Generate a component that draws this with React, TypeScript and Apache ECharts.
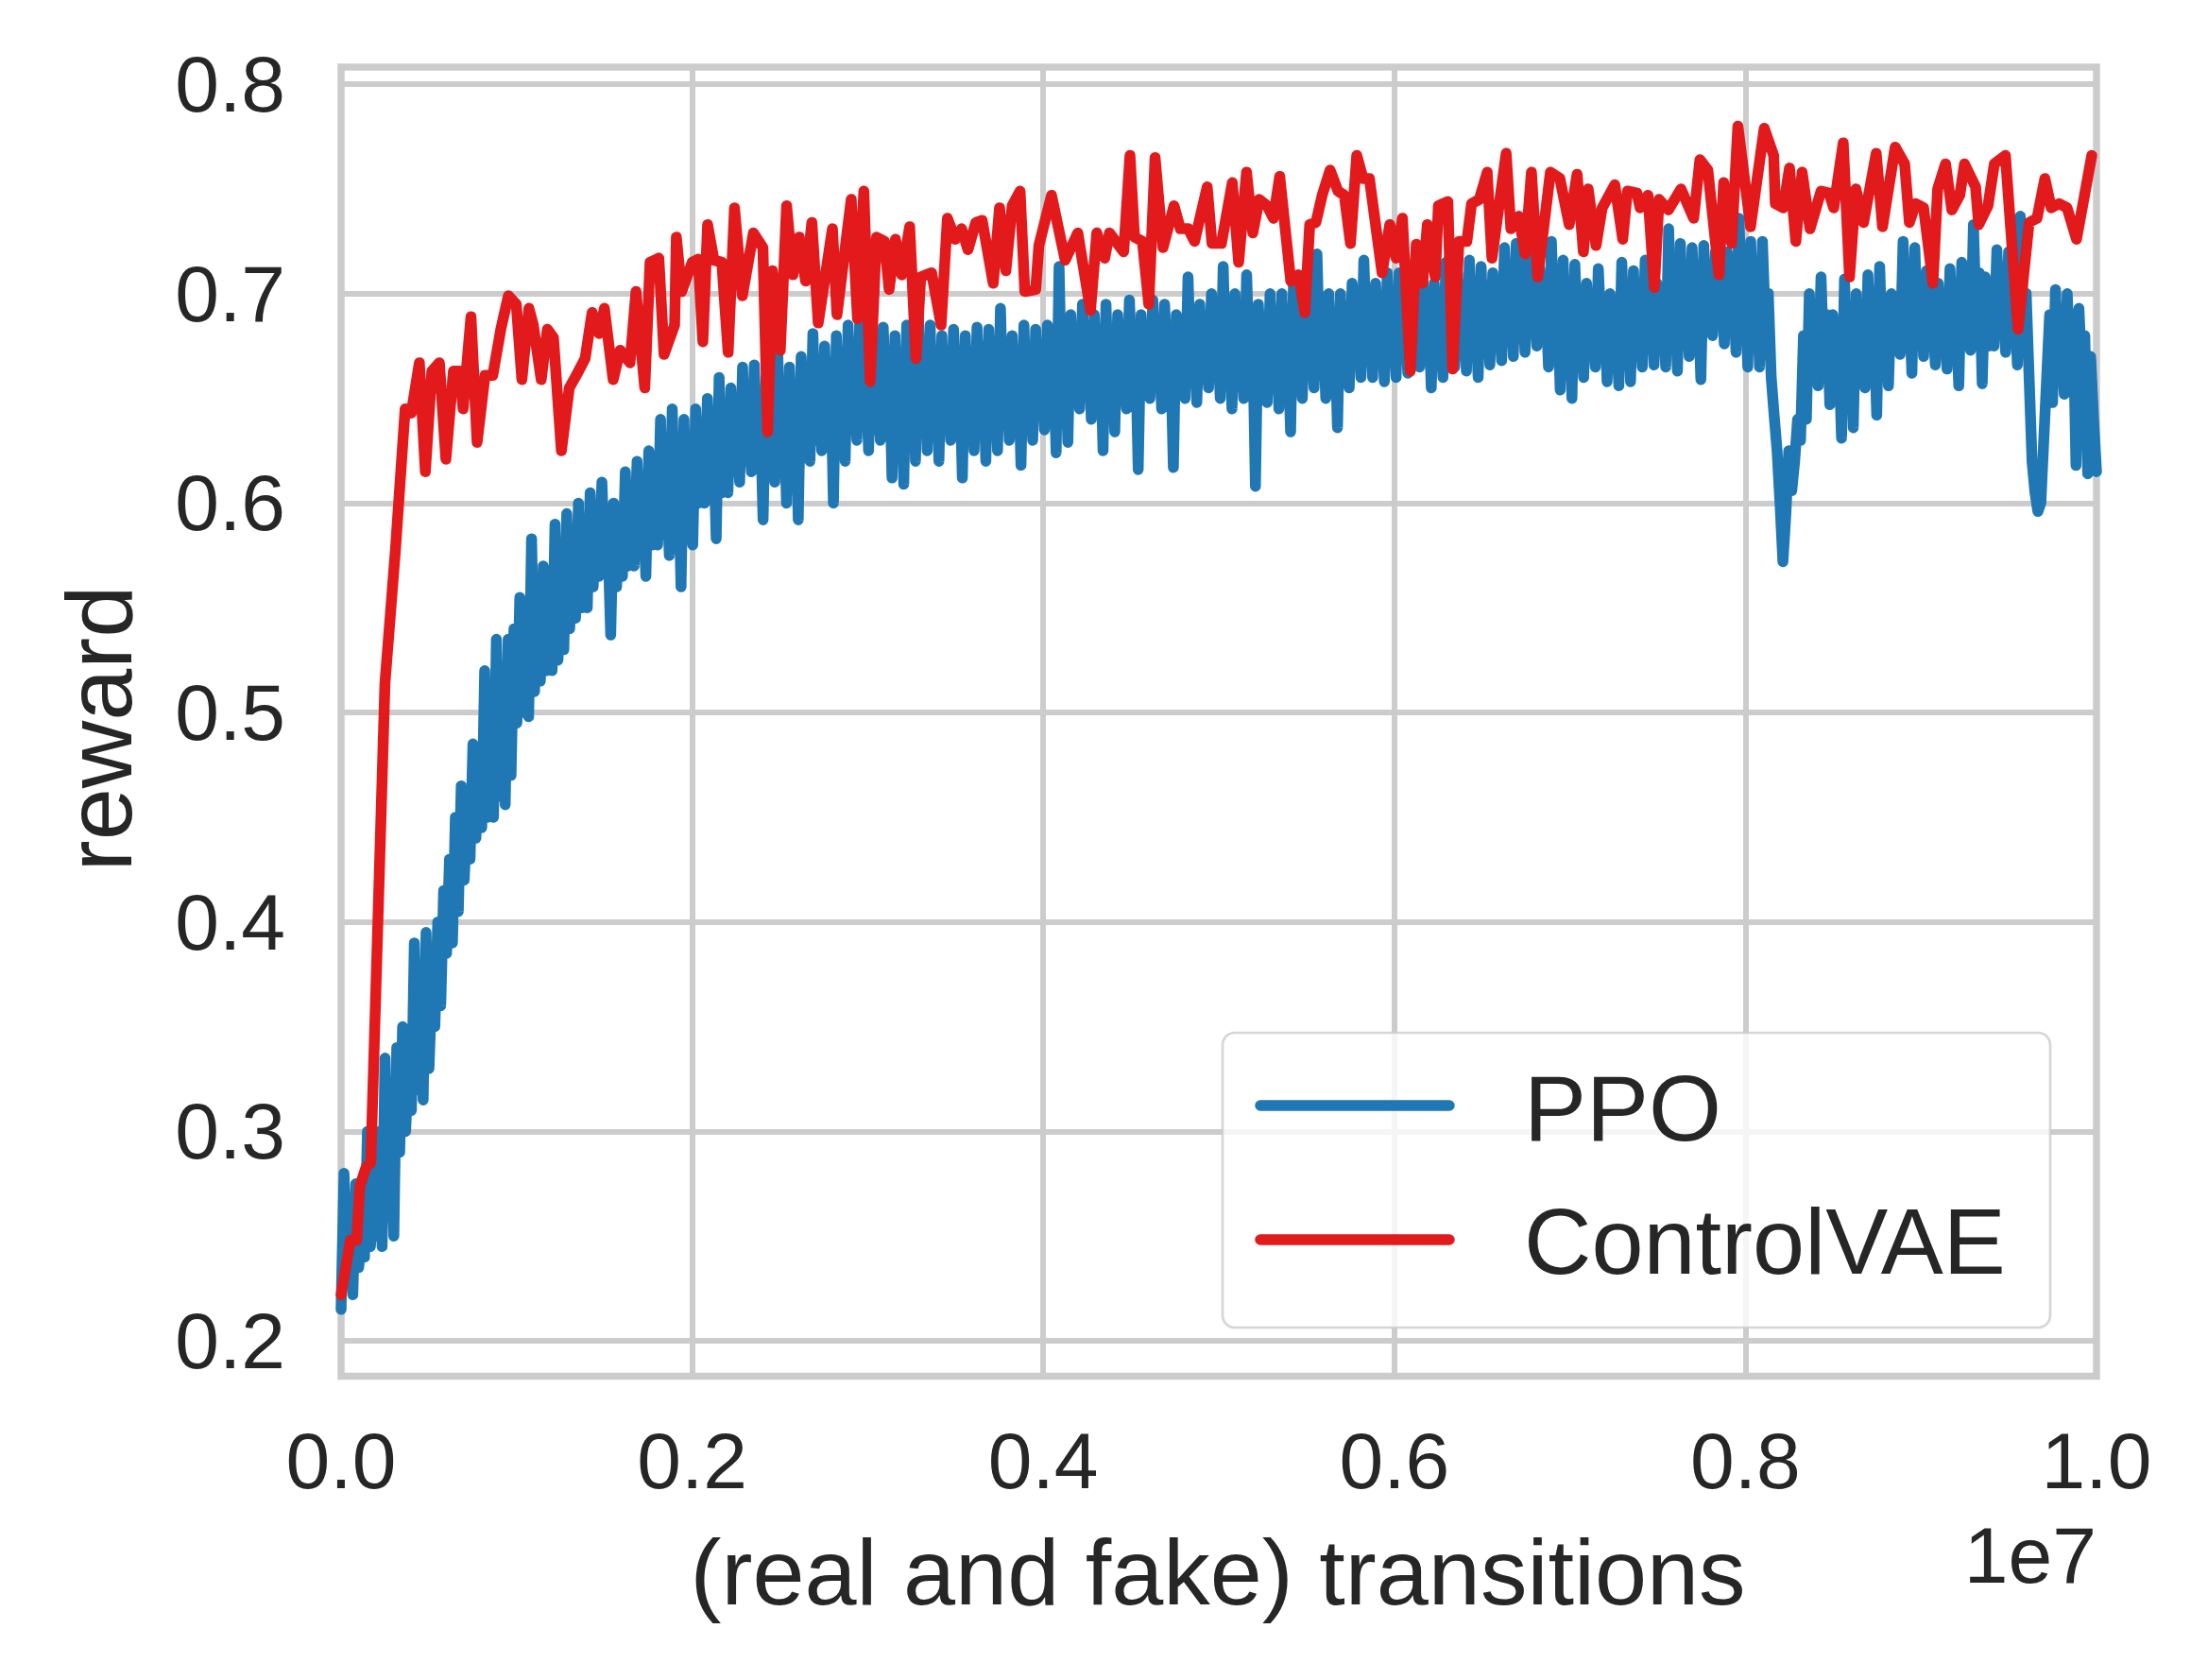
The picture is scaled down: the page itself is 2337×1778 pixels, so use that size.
import React, { useEffect, useRef } from "react";
import * as echarts from "echarts";

// ---------- data (x in units of 1e7 transitions) ----------
const xTicks = [0, 0.2, 0.4, 0.6, 0.8, 1.0];
const yTicks = [0.2, 0.3, 0.4, 0.5, 0.6, 0.7, 0.8];
const seriesNames = ["PPO", "ControlVAE"];
const xAxisTitle = "(real and fake) transitions";
const yAxisTitle = "reward";
const xOffsetText = "1e7";

// PPO reward: 600 samples, evenly spaced from 0 to 1 (x 1e7), 20 per row
const ppoReward = [
  0.215, 0.28, 0.23, 0.26, 0.222, 0.275, 0.235, 0.25, 0.24, 0.3, 0.245, 0.265, 0.25, 0.3, 0.245, 0.335, 0.26, 0.3, 0.25, 0.34,
  0.29, 0.35, 0.3, 0.33, 0.31, 0.39, 0.32, 0.36, 0.315, 0.395, 0.33, 0.37, 0.35, 0.4, 0.36, 0.415, 0.385, 0.43, 0.39, 0.45,
  0.405, 0.465, 0.42, 0.45, 0.43, 0.485, 0.44, 0.47, 0.445, 0.52, 0.45, 0.49, 0.45, 0.535, 0.46, 0.5, 0.456, 0.535, 0.47, 0.54,
  0.495, 0.555, 0.5, 0.53, 0.498, 0.583, 0.51, 0.55, 0.515, 0.57, 0.52, 0.545, 0.52, 0.59, 0.525, 0.56, 0.53, 0.595, 0.54, 0.57,
  0.545, 0.6, 0.55, 0.58, 0.55, 0.605, 0.56, 0.59, 0.565, 0.61, 0.57, 0.585, 0.537, 0.6, 0.56, 0.59, 0.565, 0.615, 0.57, 0.6,
  0.57, 0.62, 0.575, 0.6, 0.565, 0.625, 0.58, 0.61, 0.58, 0.64, 0.585, 0.62, 0.575, 0.645, 0.59, 0.62, 0.56, 0.64, 0.585, 0.63,
  0.58, 0.645, 0.6, 0.63, 0.6, 0.65, 0.61, 0.635, 0.583, 0.66, 0.605, 0.64, 0.605, 0.655, 0.615, 0.64, 0.61, 0.665, 0.62, 0.65,
  0.615, 0.666, 0.62, 0.645, 0.592, 0.66, 0.615, 0.65, 0.61, 0.672, 0.62, 0.65, 0.6, 0.665, 0.625, 0.655, 0.592, 0.67, 0.625, 0.66,
  0.62, 0.681, 0.63, 0.66, 0.625, 0.675, 0.635, 0.665, 0.6, 0.68, 0.63, 0.665, 0.62, 0.685, 0.635, 0.67, 0.63, 0.688, 0.64, 0.67,
  0.625, 0.688, 0.635, 0.665, 0.63, 0.684, 0.64, 0.67, 0.612, 0.68, 0.635, 0.665, 0.609, 0.685, 0.63, 0.67, 0.62, 0.69, 0.64, 0.675,
  0.625, 0.685, 0.635, 0.665, 0.62, 0.68, 0.64, 0.67, 0.63, 0.683, 0.645, 0.665, 0.612, 0.68, 0.635, 0.67, 0.625, 0.684, 0.64, 0.675,
  0.62, 0.683, 0.64, 0.665, 0.625, 0.693, 0.64, 0.67, 0.63, 0.68, 0.645, 0.67, 0.618, 0.685, 0.64, 0.67, 0.63, 0.683, 0.645, 0.675,
  0.635, 0.685, 0.645, 0.67, 0.624, 0.713, 0.645, 0.675, 0.629, 0.69, 0.655, 0.675, 0.645, 0.695, 0.66, 0.68, 0.64, 0.69, 0.655, 0.68,
  0.625, 0.695, 0.65, 0.675, 0.634, 0.69, 0.655, 0.675, 0.645, 0.697, 0.66, 0.68, 0.616, 0.69, 0.655, 0.68, 0.65, 0.697, 0.66, 0.68,
  0.645, 0.695, 0.66, 0.675, 0.617, 0.69, 0.655, 0.68, 0.65, 0.708, 0.66, 0.685, 0.648, 0.695, 0.66, 0.68, 0.655, 0.7, 0.665, 0.685,
  0.65, 0.713, 0.66, 0.685, 0.645, 0.7, 0.66, 0.68, 0.65, 0.709, 0.665, 0.685, 0.608, 0.695, 0.66, 0.68, 0.648, 0.7, 0.665, 0.685,
  0.645, 0.7, 0.66, 0.68, 0.634, 0.705, 0.66, 0.685, 0.65, 0.7, 0.665, 0.685, 0.655, 0.719, 0.665, 0.69, 0.65, 0.7, 0.665, 0.685,
  0.636, 0.7, 0.66, 0.685, 0.655, 0.705, 0.67, 0.69, 0.66, 0.716, 0.67, 0.69, 0.66, 0.705, 0.67, 0.69, 0.658, 0.71, 0.67, 0.69,
  0.66, 0.71, 0.675, 0.69, 0.662, 0.705, 0.675, 0.69, 0.665, 0.712, 0.675, 0.695, 0.655, 0.705, 0.67, 0.69, 0.66, 0.715, 0.675, 0.695,
  0.665, 0.71, 0.675, 0.69, 0.663, 0.716, 0.675, 0.695, 0.66, 0.713, 0.675, 0.695, 0.666, 0.71, 0.68, 0.695, 0.668, 0.722, 0.68, 0.7,
  0.67, 0.724, 0.685, 0.7, 0.672, 0.72, 0.685, 0.7, 0.675, 0.712, 0.685, 0.7, 0.665, 0.725, 0.68, 0.7, 0.654, 0.716, 0.675, 0.695,
  0.65, 0.714, 0.675, 0.695, 0.66, 0.705, 0.675, 0.69, 0.665, 0.712, 0.68, 0.695, 0.658, 0.7, 0.675, 0.69, 0.656, 0.715, 0.675, 0.695,
  0.658, 0.711, 0.675, 0.695, 0.665, 0.716, 0.68, 0.7, 0.666, 0.705, 0.68, 0.7, 0.665, 0.731, 0.685, 0.705, 0.663, 0.724, 0.68, 0.7,
  0.67, 0.722, 0.685, 0.7, 0.659, 0.723, 0.685, 0.705, 0.68, 0.72, 0.69, 0.705, 0.676, 0.72, 0.69, 0.705, 0.672, 0.736, 0.69, 0.71,
  0.665, 0.725, 0.68, 0.705, 0.665, 0.725, 0.685, 0.7, 0.66, 0.642, 0.625, 0.6, 0.572, 0.595, 0.625, 0.606, 0.62, 0.64, 0.63, 0.68,
  0.64, 0.7, 0.66, 0.68, 0.656, 0.708, 0.665, 0.69, 0.647, 0.69, 0.66, 0.675, 0.631, 0.707, 0.66, 0.685, 0.636, 0.7, 0.66, 0.68,
  0.655, 0.709, 0.665, 0.69, 0.642, 0.713, 0.67, 0.695, 0.656, 0.7, 0.675, 0.69, 0.671, 0.725, 0.68, 0.7, 0.662, 0.722, 0.68, 0.7,
  0.67, 0.711, 0.68, 0.695, 0.666, 0.705, 0.68, 0.69, 0.664, 0.712, 0.68, 0.695, 0.656, 0.715, 0.68, 0.7, 0.673, 0.733, 0.685, 0.71,
  0.657, 0.708, 0.675, 0.695, 0.675, 0.721, 0.685, 0.7, 0.672, 0.72, 0.685, 0.7, 0.666, 0.737, 0.69, 0.7, 0.66, 0.62, 0.605, 0.596,
  0.6, 0.63, 0.66, 0.69, 0.648, 0.702, 0.66, 0.68, 0.652, 0.7, 0.665, 0.69, 0.618, 0.693, 0.66, 0.68, 0.614, 0.67, 0.64, 0.615,
];

// ControlVAE reward: [transitions (x 1e7), reward]
const controlVaeCurve: [number, number][] = [
  [0, 0.222], [0.0053, 0.248], [0.0089, 0.248], [0.0107, 0.274], [0.0143, 0.283],
  [0.0169, 0.285], [0.025, 0.514], [0.031, 0.578], [0.0365, 0.645], [0.04, 0.643],
  [0.0446, 0.667], [0.048, 0.615], [0.0517, 0.663], [0.056, 0.667], [0.0597, 0.621],
  [0.064, 0.663], [0.0677, 0.663], [0.0695, 0.645], [0.074, 0.689], [0.0775, 0.629],
  [0.082, 0.661], [0.0864, 0.661], [0.091, 0.683], [0.0953, 0.699], [0.0998, 0.695],
  [0.103, 0.659], [0.107, 0.693], [0.1095, 0.685], [0.114, 0.659], [0.1175, 0.683],
  [0.121, 0.679], [0.1255, 0.625], [0.13, 0.655], [0.134, 0.661], [0.139, 0.669],
  [0.143, 0.691], [0.147, 0.681], [0.15, 0.693], [0.155, 0.659], [0.159, 0.673],
  [0.1646, 0.667], [0.168, 0.701], [0.173, 0.655], [0.176, 0.715], [0.181, 0.717],
  [0.184, 0.671], [0.19, 0.685], [0.191, 0.727], [0.194, 0.701], [0.2, 0.715],
  [0.2034, 0.7165], [0.2061, 0.677], [0.2088, 0.733], [0.2124, 0.716], [0.2169, 0.715],
  [0.2205, 0.672], [0.2241, 0.741], [0.2286, 0.699], [0.2349, 0.729], [0.2403, 0.722],
  [0.243, 0.634], [0.2457, 0.711], [0.2502, 0.673], [0.2538, 0.742], [0.2574, 0.709],
  [0.261, 0.727], [0.2646, 0.706], [0.2682, 0.734], [0.2718, 0.686], [0.2799, 0.731],
  [0.2825, 0.69], [0.2906, 0.745], [0.2942, 0.688], [0.2978, 0.749], [0.3014, 0.658],
  [0.305, 0.727], [0.3095, 0.725], [0.3122, 0.702], [0.3158, 0.726], [0.3194, 0.709],
  [0.3239, 0.732], [0.3275, 0.669], [0.3302, 0.708], [0.3364, 0.71], [0.3418, 0.685],
  [0.3454, 0.736], [0.3499, 0.726], [0.3535, 0.731], [0.3571, 0.721], [0.3616, 0.734],
  [0.3652, 0.735], [0.3715, 0.705], [0.3751, 0.741], [0.3787, 0.711], [0.3823, 0.742],
  [0.3868, 0.749], [0.3895, 0.701], [0.3957, 0.702], [0.3975, 0.723], [0.4047, 0.747],
  [0.4125, 0.716], [0.4197, 0.729], [0.4269, 0.692], [0.4305, 0.729], [0.435, 0.717],
  [0.4377, 0.729], [0.4458, 0.72], [0.4494, 0.766], [0.452, 0.727], [0.4565, 0.725],
  [0.4601, 0.695], [0.4637, 0.765], [0.4682, 0.722], [0.4745, 0.742], [0.4781, 0.731],
  [0.4826, 0.731], [0.4862, 0.725], [0.4934, 0.751], [0.4961, 0.724], [0.5015, 0.724],
  [0.5077, 0.753], [0.5113, 0.715], [0.5158, 0.758], [0.5194, 0.729], [0.523, 0.745],
  [0.5275, 0.742], [0.5311, 0.736], [0.5347, 0.756], [0.541, 0.706], [0.5455, 0.709],
  [0.549, 0.691], [0.5518, 0.733], [0.5553, 0.734], [0.5589, 0.747], [0.5634, 0.759],
  [0.5679, 0.749], [0.5715, 0.747], [0.575, 0.724], [0.5786, 0.766], [0.5822, 0.755],
  [0.5858, 0.755], [0.593, 0.71], [0.5974, 0.733], [0.601, 0.717], [0.6046, 0.736],
  [0.6091, 0.663], [0.6125, 0.7236], [0.6161, 0.705], [0.6188, 0.733], [0.6233, 0.708],
  [0.6251, 0.742], [0.6305, 0.744], [0.6332, 0.664], [0.6368, 0.725], [0.6413, 0.725],
  [0.644, 0.743], [0.6484, 0.745], [0.6529, 0.758], [0.6556, 0.717], [0.6637, 0.767],
  [0.6664, 0.731], [0.6709, 0.737], [0.6745, 0.719], [0.6781, 0.758], [0.6817, 0.708],
  [0.6889, 0.758], [0.6943, 0.755], [0.6996, 0.733], [0.7041, 0.757], [0.7077, 0.72],
  [0.7104, 0.75], [0.7149, 0.723], [0.7184, 0.741], [0.7256, 0.752], [0.7301, 0.726],
  [0.7328, 0.749], [0.7382, 0.748], [0.74, 0.741], [0.7445, 0.747], [0.7481, 0.703],
  [0.7508, 0.745], [0.7561, 0.74], [0.7633, 0.75], [0.7705, 0.736], [0.7741, 0.764],
  [0.7786, 0.759], [0.7849, 0.709], [0.7876, 0.753], [0.7921, 0.724], [0.7957, 0.78],
  [0.8029, 0.732], [0.8107, 0.779], [0.8161, 0.766], [0.817, 0.743], [0.8215, 0.741],
  [0.8251, 0.76], [0.8287, 0.725], [0.8323, 0.758], [0.8368, 0.731], [0.8431, 0.749],
  [0.8476, 0.748], [0.8503, 0.741], [0.8557, 0.772], [0.8593, 0.708], [0.8629, 0.75],
  [0.8673, 0.734], [0.8745, 0.767], [0.8781, 0.732], [0.8853, 0.77], [0.8907, 0.762],
  [0.8934, 0.734], [0.897, 0.743], [0.9015, 0.741], [0.9068, 0.705], [0.9095, 0.75],
  [0.914, 0.762], [0.9176, 0.74], [0.9221, 0.747], [0.9248, 0.762], [0.9311, 0.751],
  [0.9329, 0.733], [0.9382, 0.742], [0.9418, 0.762], [0.9481, 0.766], [0.9553, 0.683],
  [0.9616, 0.734], [0.9661, 0.736], [0.9706, 0.755], [0.9742, 0.741], [0.9787, 0.743],
  [0.9832, 0.741], [0.9886, 0.726], [0.9973, 0.766],
];

// ---------- styling ----------
const FONT = "'Liberation Sans', Arial, Helvetica, sans-serif";
const TEXT_COLOR = "#262626";
const GRID_COLOR = "#cccccc";
const PPO_COLOR = "#1f77b4";
const CVAE_COLOR = "#e31a1c";

const W = 2337;
const H = 1778;
const PLOT_L = 361;
const PLOT_R = 2219;
const PLOT_T = 71;
const PLOT_B = 1456.5;

function textEl(text: string, x: number, y: number, size: number, align: string, extra: any = {}) {
  return {
    type: "text",
    x,
    y,
    ...extra,
    style: {
      text,
      fontSize: size,
      fontFamily: FONT,
      fill: TEXT_COLOR,
      align,
      verticalAlign: "middle",
      textAlign: align,
      textVerticalAlign: "middle",
    },
  };
}

export default function App() {
  const ref = useRef<HTMLDivElement>(null);

  useEffect(() => {
    if (!ref.current) return;
    const chart = echarts.init(ref.current, undefined, { renderer: "svg" });

    const ppoData = ppoReward.map((v, i) => [i / (ppoReward.length - 1), v]);

    const option: any = {
      animation: false,
      backgroundColor: "#ffffff",
      textStyle: { fontFamily: FONT },
      grid: {
        left: PLOT_L,
        top: PLOT_T,
        width: PLOT_R - PLOT_L,
        height: PLOT_B - PLOT_T,
        show: true,
        borderColor: GRID_COLOR,
        borderWidth: 7.5,
        backgroundColor: "transparent",
        containLabel: false,
        outerBoundsMode: "none",
      },
      xAxis: {
        type: "value",
        min: xTicks[0],
        max: xTicks[xTicks.length - 1],
        interval: 0.2,
        axisLine: { show: false },
        axisTick: { show: false },
        splitLine: { show: true, lineStyle: { color: GRID_COLOR, width: 6 } },
        axisLabel: {
          show: true,
          showMinLabel: true,
          showMaxLabel: true,
          formatter: (v: number) => v.toFixed(1),
          fontSize: 84,
          color: TEXT_COLOR,
          fontFamily: FONT,
          margin: 89,
          verticalAlign: "middle",
        },
      },
      yAxis: {
        type: "value",
        min: 0.1831,
        max: 0.8082,
        axisLine: { show: false },
        splitLine: { show: false },
        axisTick: {
          show: true,
          inside: true,
          length: PLOT_R - PLOT_L,
          customValues: yTicks,
          lineStyle: { color: GRID_COLOR, width: 6 },
        },
        axisLabel: {
          show: true,
          customValues: yTicks,
          formatter: (v: number) => v.toFixed(1),
          fontSize: 84,
          color: TEXT_COLOR,
          fontFamily: FONT,
          margin: 59,
          verticalAlign: "middle",
          align: "right",
        },
      },
      series: [
        {
          name: seriesNames[0],
          type: "line",
          data: ppoData,
          showSymbol: false,
          symbol: "none",
          lineStyle: { color: PPO_COLOR, width: 11.5, join: "round", cap: "round" },
          z: 3,
        },
        {
          name: seriesNames[1],
          type: "line",
          data: controlVaeCurve,
          showSymbol: false,
          symbol: "none",
          lineStyle: { color: CVAE_COLOR, width: 11.5, join: "round", cap: "round" },
          z: 4,
        },
      ],
      graphic: [
        textEl(yAxisTitle, 104, 771, 99, "center", { rotation: Math.PI / 2 }),
        textEl(xAxisTitle, 1289, 1663, 99, "center"),
        textEl(xOffsetText, 2219, 1646, 84, "right"),
        {
          type: "rect",
          z: 100,
          shape: { x: 1294, y: 1093, width: 876, height: 312, r: 13 },
          style: {
            fill: "rgba(255,255,255,0.8)",
            stroke: "rgba(204,204,204,0.8)",
            lineWidth: 2.7,
          },
        },
        {
          type: "line",
          z: 101,
          shape: { x1: 1334, y1: 1170, x2: 1534, y2: 1170 },
          style: { stroke: PPO_COLOR, lineWidth: 11.5, lineCap: "round" },
        },
        {
          type: "line",
          z: 101,
          shape: { x1: 1334, y1: 1312, x2: 1534, y2: 1312 },
          style: { stroke: CVAE_COLOR, lineWidth: 11.5, lineCap: "round" },
        },
        textEl(seriesNames[0], 1613, 1172, 99, "left", { z: 101 }),
        textEl(seriesNames[1], 1613, 1313, 99, "left", { z: 101 }),
      ],
    };

    chart.setOption(option);
    return () => {
      chart.dispose();
    };
  }, []);

  return (
    <div
      ref={ref}
      style={{ position: "fixed", left: 0, top: 0, width: W, height: H, background: "#ffffff" }}
    />
  );
}
